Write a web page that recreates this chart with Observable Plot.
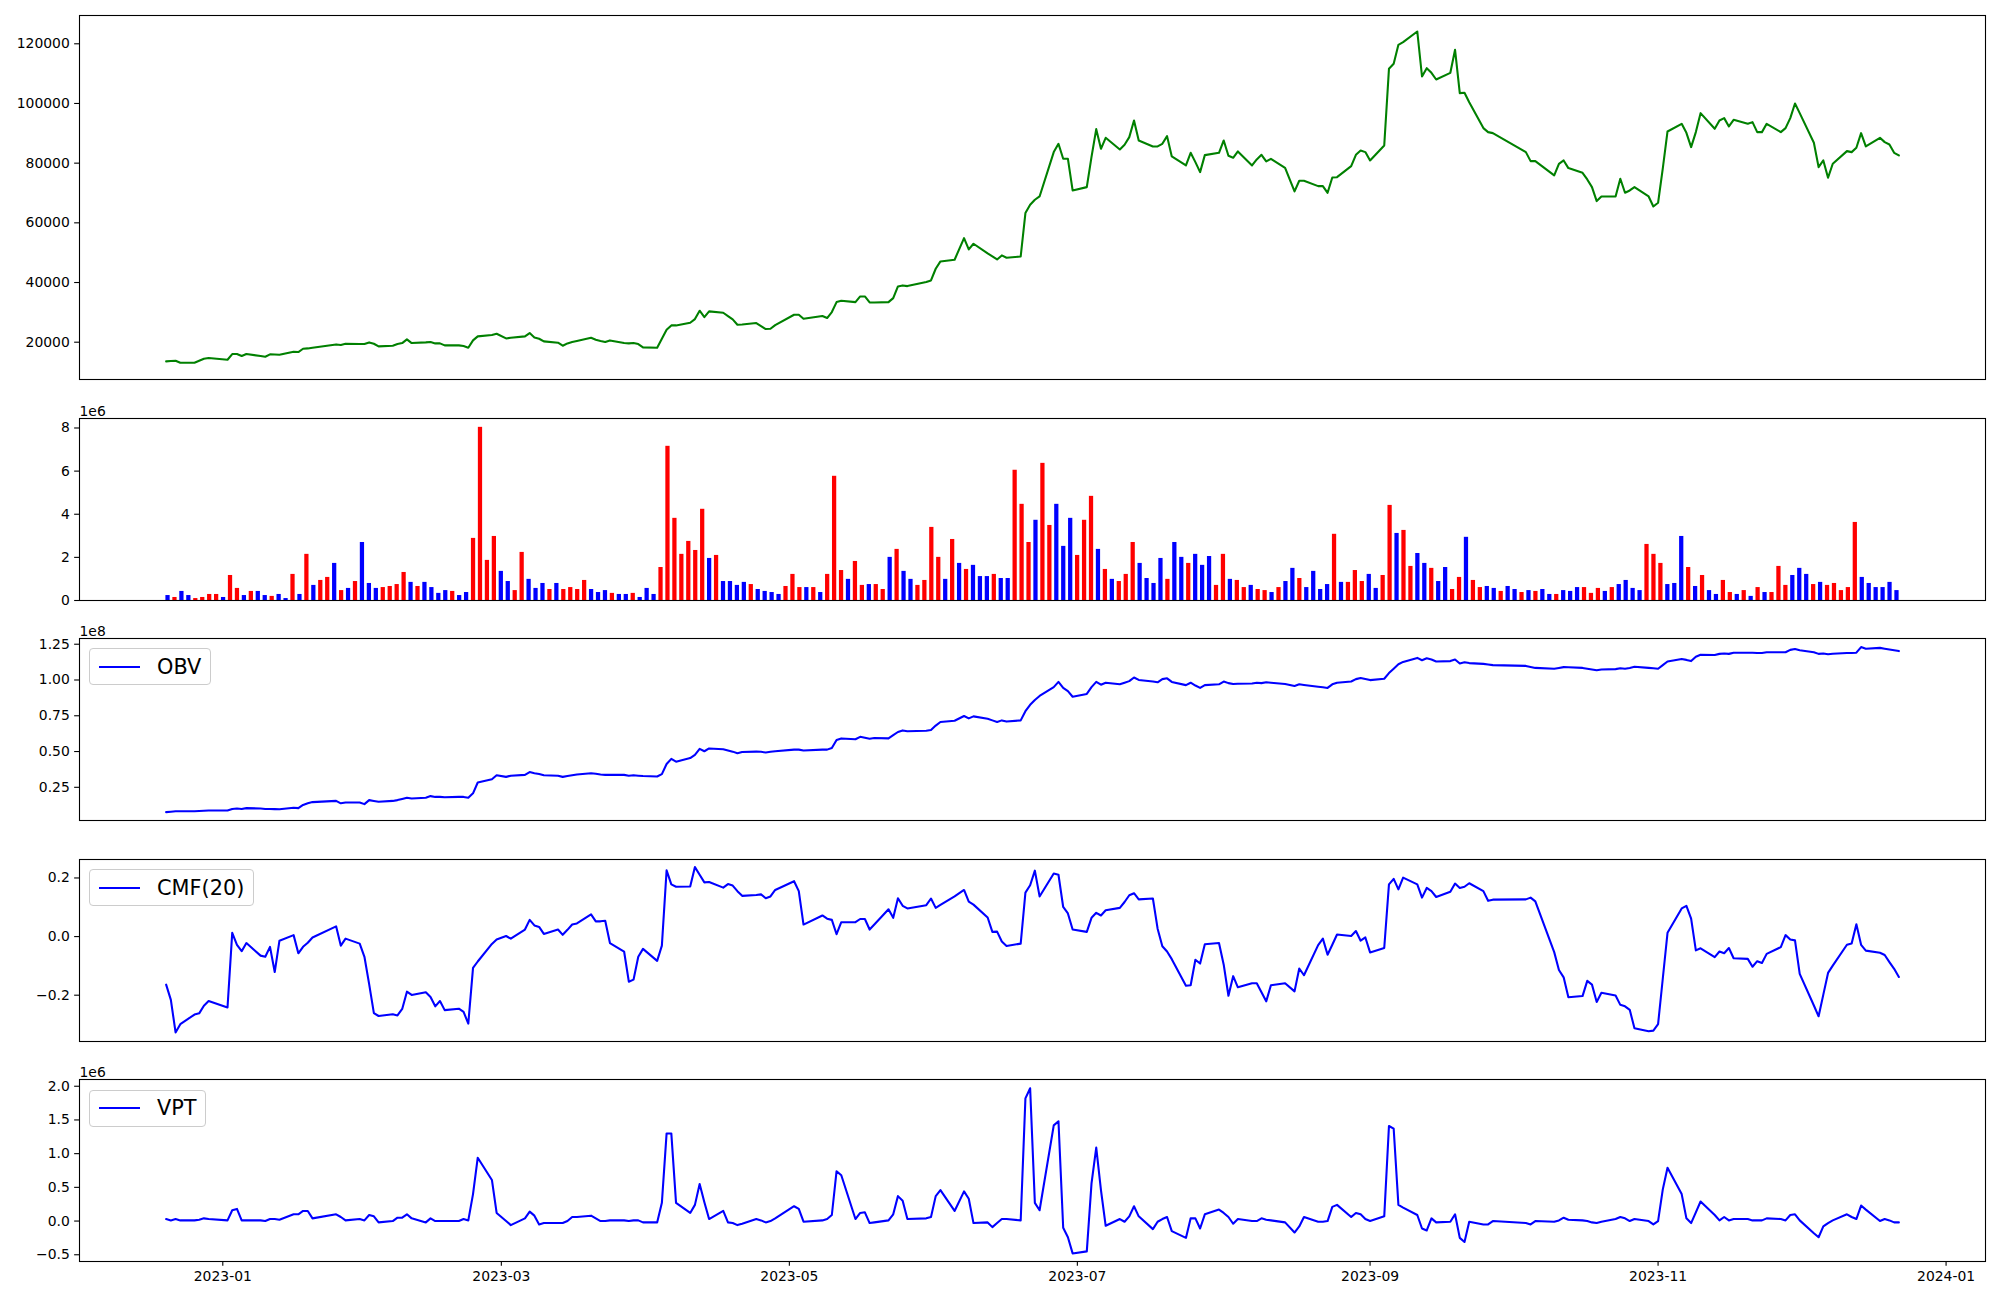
<!DOCTYPE html>
<html><head><meta charset="utf-8">
<script src="https://cdn.jsdelivr.net/npm/d3@7"></script>
<script src="https://cdn.jsdelivr.net/npm/@observablehq/plot@0.6"></script>
<style>
html,body{margin:0;padding:0;background:#fff;overflow:hidden}
#wrap{position:relative;width:2000px;height:1300px;font-family:"DejaVu Sans",sans-serif}
.legend{position:absolute;left:89.4px;height:37px;box-sizing:border-box;border:1px solid #cccccc;border-radius:4px;background:rgba(255,255,255,0.8);display:flex;align-items:center;padding:0 8.3px;font-size:20.83px;color:#000;font-family:"DejaVu Sans",sans-serif;white-space:nowrap}
.legend svg{margin-right:16.7px;display:block}
</style></head><body><div id="wrap"></div>
<script>
// ---------- DATA ----------
const firstDay = "2022-12-20", lastDay = "2023-12-22";
const holidays = ["2022-12-30","2023-01-23","2023-01-24","2023-03-01","2023-05-01","2023-05-05","2023-05-29","2023-06-06","2023-08-15","2023-09-28","2023-09-29","2023-10-02","2023-10-03","2023-10-09"];

const close = [13570,13680,13790,13120,13120,13790,14460,14690,14130,16030,
16030,15350,16030,15350,15130,15910,15860,15800,16810,16700,
17810,17920,18150,19260,19040,19490,19380,19380,19930,19490,
18590,18820,19380,19710,20940,19710,19930,20040,19600,19600,
18930,18930,18700,18150,20600,21940,22390,22830,21270,21500,
21940,23060,21610,21160,20270,19820,18820,19600,20040,20380,
21500,20830,20380,20040,20600,19710,19600,19710,19380,18260,
18150,21160,24180,25630,25630,26520,27750,30540,28420,30320,
29870,28760,27640,25850,25960,26410,25410,24400,24510,25740,
29200,29200,27860,28760,28090,30100,33440,33890,33440,35340,
35340,33330,33330,33440,34780,38690,39030,38800,40140,40700,
44610,47070,47630,54890,51090,52990,49750,48740,47740,49080,
48300,48740,63260,66050,67730,68840,83700,86490,81460,81460,
70850,71970,82130,91400,84810,88500,84590,86150,88720,94300,
87600,85600,85600,86490,89060,82240,79230,83470,80350,76990,
82690,83470,87600,82470,81800,83920,79230,81240,82800,80570,
81460,78450,70520,74090,74090,72300,72300,70070,75210,75300,
79000,82800,84250,83700,80900,85930,111610,113290,119650,120550,
124120,109040,111840,110270,108040,110270,117980,103460,103570,100390,
91740,90400,90060,83700,80680,80680,75880,79790,80900,78340,
76770,74540,71970,67280,68840,68840,74760,70070,70850,71970,
68840,65490,66720,78220,90620,93190,90170,85370,90400,96760,
91510,94300,95090,92300,94530,93190,93750,90400,90400,93190,
90400,91740,95090,100000,96760,86820,78670,80900,75100,79790,
84030,83700,85150,90060,85600,88500,87050,86260,83470,82580];

// volume, millions of shares (bar i)
const volume = [0.23,0.14,0.42,0.23,0.09,0.14,0.28,0.28,0.14,1.16,
0.56,0.23,0.42,0.42,0.23,0.19,0.28,0.09,1.21,0.28,
2.14,0.70,0.93,1.07,1.72,0.46,0.56,0.88,2.69,0.79,
0.56,0.60,0.65,0.74,1.30,0.84,0.65,0.84,0.60,0.33,
0.46,0.42,0.23,0.37,2.88,8.03,1.86,2.97,1.35,0.88,
0.46,2.23,0.98,0.56,0.79,0.51,0.79,0.51,0.60,0.51,
0.93,0.51,0.37,0.46,0.33,0.28,0.28,0.33,0.14,0.56,
0.28,1.53,7.15,3.81,2.14,2.74,2.32,4.23,1.95,2.09,
0.88,0.88,0.70,0.84,0.74,0.51,0.42,0.37,0.28,0.65,
1.21,0.60,0.60,0.60,0.37,1.21,5.76,1.39,0.98,1.81,
0.70,0.74,0.74,0.51,2.00,2.37,1.35,0.98,0.70,0.93,
3.39,2.00,0.98,2.83,1.72,1.44,1.63,1.11,1.11,1.21,
1.02,1.02,6.04,4.46,2.69,3.72,6.36,3.48,4.46,2.51,
3.81,2.09,3.72,4.83,2.37,1.44,0.98,0.88,1.21,2.69,
1.72,1.02,0.79,1.95,0.98,2.69,2.00,1.72,2.14,1.63,
2.04,0.70,2.14,0.98,0.93,0.60,0.70,0.51,0.46,0.37,
0.60,0.88,1.49,1.02,0.60,1.35,0.51,0.74,3.07,0.84,
0.84,1.39,0.88,1.21,0.56,1.16,4.41,3.11,3.25,1.58,
2.18,1.72,1.49,0.88,1.53,0.51,1.07,2.93,0.93,0.60,
0.65,0.56,0.42,0.65,0.51,0.37,0.46,0.42,0.51,0.28,
0.28,0.46,0.42,0.60,0.60,0.33,0.56,0.42,0.60,0.74,
0.93,0.56,0.46,2.60,2.14,1.72,0.74,0.79,2.97,1.53,
0.65,1.16,0.46,0.28,0.93,0.37,0.28,0.46,0.19,0.60,
0.37,0.37,1.58,0.70,1.16,1.49,1.21,0.74,0.84,0.70,
0.79,0.46,0.60,3.62,1.07,0.79,0.60,0.60,0.84,0.46];

// bar direction: R = up (red), B = down (blue)
const volumeDir = ("BRBBRRRRBR"+"RBRBBRBBRB"+"RBRRBRBRBB"+"BRRRRBRBBB"+"BRBBRRRRBB"+
"RRBBBRBRRR"+"RBBBRBBRBB"+"BRRRRRRRBR"+"BBBBRBBBBR"+"RRBRBRRRBR"+
"RBRRBRBBRR"+"RRBRBRBBBR"+"BBRRRBRRBB"+"BRRRBRBRRR"+"BBBBRBBRBB"+
"BRRBRRBRRB"+"RBBRBBBBRB"+"RRRBBRRBRR"+"BBRBBRRBRR"+"BBRBBRBRBB"+
"RBBBRRRBRB"+"BBBRRRBBBR"+"BRBBRRBRBR"+"BRRRBBBRBR"+"RRRRBBBBBB").split("");

// OBV, millions
const obv = [7.65,7.93,8.21,8.21,8.21,8.49,8.6,8.77,8.77,9.89,
10.17,9.89,10.45,10.17,9.89,9.89,9.75,9.61,10.73,10.45,
12.69,13.81,14.65,15.49,13.81,14.37,14.37,13.25,16.05,15.49,
14.93,15.49,16.05,16.89,17.73,17.17,17.73,18.85,18.29,18.29,
18.01,18.29,18.29,17.73,20.81,28.37,30.61,33.41,32.29,33.13,
33.69,35.65,34.81,34.25,33.41,33.13,32.29,32.85,33.41,33.97,
34.81,34.53,33.97,33.69,33.69,33.69,33.13,33.41,33.13,32.85,
32.57,34.25,41.25,44.89,42.93,45.45,47.69,51.89,50.21,52.17,
51.61,50.77,49.93,48.81,49.65,49.93,49.79,49.37,49.79,50.21,
51.33,51.33,50.77,51.33,51.33,52.45,58.05,59.17,58.61,60.29,
59.6,58.89,59.45,59.17,61.41,63.65,64.77,64.21,64.49,65.05,
68.13,70.65,71.49,74.85,73.17,74.57,72.89,71.77,70.65,71.77,
70.93,71.77,78.21,82.69,86.05,88.85,95.01,98.65,94.45,92.21,
88.29,90.25,95.01,98.65,96.69,98.09,96.97,98.09,99.21,101.73,
100.05,98.93,98.37,100.61,101.17,98.65,96.41,98.09,96.13,94.45,
96.41,96.97,98.93,97.81,97.25,97.4,97.53,98.09,97.81,98.37,
98.09,97.25,95.85,96.97,96.55,95.29,94.87,94.45,96.97,98.09,
98.93,100.61,101.45,100.75,99.93,100.89,104.81,107.89,110.97,112.65,
115.45,113.77,115.17,114.33,112.93,113.21,114.33,111.53,112.37,111.81,
111.25,110.83,110.41,109.85,109.15,108.45,107.89,108.45,109.01,108.87,
108.45,107.89,107.33,106.77,107.33,107.61,108.17,107.89,108.45,109.29,
108.45,108.17,107.89,110.41,112.93,114.61,114.05,113.21,116.29,117.69,
117.41,118.25,118.53,118.25,119.09,119.09,119.09,118.81,118.81,119.37,
119.37,119.37,121.05,121.61,120.77,119.37,118.25,118.53,117.97,118.39,
118.81,118.81,119.09,123.01,121.89,122.45,121.89,121.33,120.77,120.21];

const cmf = [-0.164,-0.216,-0.327,-0.299,-0.266,-0.262,-0.236,-0.220,-0.242,0.013,
-0.028,-0.050,-0.022,-0.065,-0.069,-0.035,-0.121,-0.014,0.005,-0.057,
-0.035,-0.021,-0.003,0.035,-0.031,-0.007,-0.024,-0.069,-0.162,-0.261,
-0.271,-0.265,-0.269,-0.247,-0.188,-0.199,-0.190,-0.206,-0.238,-0.220,
-0.251,-0.246,-0.257,-0.297,-0.107,-0.085,-0.025,-0.010,0.002,-0.007,
0.024,0.057,0.038,0.033,0.009,0.024,0.006,0.023,0.041,0.045,
0.076,0.052,0.052,0.054,-0.022,-0.051,-0.154,-0.147,-0.069,-0.042,
-0.083,-0.031,0.226,0.178,0.170,0.171,0.237,0.211,0.185,0.186,
0.167,0.179,0.174,0.155,0.139,0.142,0.144,0.131,0.137,0.159,
0.189,0.155,0.041,0.072,0.061,0.057,0.008,0.049,0.049,0.060,
0.060,0.024,0.041,0.093,0.064,0.131,0.105,0.096,0.107,0.130,
0.098,0.108,0.137,0.159,0.119,0.109,0.065,0.016,0.017,-0.017,
-0.032,-0.024,0.150,0.175,0.225,0.137,0.215,0.211,0.101,0.079,
0.024,0.016,0.064,0.081,0.072,0.090,0.098,0.118,0.141,0.148,
0.127,0.130,0.027,-0.033,-0.051,-0.077,-0.168,-0.166,-0.079,-0.092,
-0.026,-0.022,-0.096,-0.202,-0.135,-0.173,-0.159,-0.159,-0.190,-0.221,
-0.166,-0.159,-0.187,-0.109,-0.132,-0.029,-0.007,-0.062,-0.028,0.007,
0.002,0.019,-0.014,-0.003,-0.054,-0.039,0.178,0.197,0.161,0.201,
0.178,0.133,0.166,0.155,0.135,0.153,0.181,0.166,0.170,0.182,
0.155,0.122,0.126,0.127,0.133,0.120,-0.053,-0.114,-0.139,-0.207,
-0.203,-0.151,-0.164,-0.223,-0.192,-0.201,-0.233,-0.238,-0.250,-0.313,
-0.323,-0.321,-0.299,-0.143,0.013,0.096,0.105,0.061,-0.047,-0.040,
-0.070,-0.051,-0.057,-0.039,-0.074,-0.076,-0.103,-0.084,-0.090,-0.059,
-0.036,0.005,-0.010,-0.013,-0.127,-0.235,-0.272,-0.198,-0.124,-0.099,
-0.028,-0.024,0.042,-0.028,-0.048,-0.055,-0.063,-0.087,-0.110,-0.138];

// VPT, millions
const vpt = [0.03,0.01,0.03,0.01,0.01,0.02,0.04,0.03,0.01,0.16,
0.18,0.01,0.01,0.01,0.00,0.03,0.03,0.02,0.10,0.10,
0.15,0.15,0.04,0.10,0.06,0.01,0.03,0.01,0.09,0.07,
-0.02,0.00,0.05,0.05,0.10,0.04,-0.02,0.04,0.00,0.00,
0.00,0.00,0.03,0.01,0.40,0.94,0.61,0.12,0.00,-0.06,
0.04,0.14,0.08,-0.05,-0.03,-0.03,-0.03,0.00,0.06,0.06,
0.08,0.04,0.00,0.00,0.01,0.01,0.00,0.01,0.01,-0.02,
-0.02,0.27,1.30,1.30,0.27,0.12,0.24,0.55,0.28,0.03,
0.15,-0.02,-0.03,-0.06,-0.04,0.03,0.01,-0.02,0.00,0.04,
0.22,0.18,-0.01,0.01,0.03,0.09,0.74,0.68,0.03,0.12,
0.13,-0.03,-0.02,0.01,0.10,0.37,0.30,0.03,0.04,0.06,
0.37,0.46,0.15,0.44,0.33,-0.03,-0.02,-0.09,-0.03,0.03,
0.03,0.01,1.82,1.97,0.27,0.16,1.42,1.48,-0.10,-0.24,
-0.48,-0.45,0.56,1.09,0.46,-0.07,0.03,-0.01,0.07,0.22,
0.07,-0.12,-0.01,0.03,0.06,-0.15,-0.25,0.04,0.04,-0.11,
0.10,0.17,0.12,0.06,-0.04,0.03,0.00,0.00,0.04,0.02,
0.01,-0.02,-0.17,-0.08,0.06,-0.01,-0.01,0.00,0.21,0.24,
0.06,0.12,0.10,0.03,0.00,0.07,1.41,1.37,0.24,0.20,
0.09,-0.11,-0.14,0.04,-0.02,-0.01,0.10,-0.25,-0.31,-0.01,
-0.05,-0.05,0.00,-0.03,-0.05,0.00,-0.01,0.01,0.05,0.02,
0.01,0.00,-0.02,-0.03,-0.01,0.03,0.06,0.04,0.00,0.03,
0.00,-0.05,0.00,0.47,0.79,0.40,0.04,-0.03,0.13,0.29,
0.09,0.01,0.06,0.01,0.03,0.03,0.01,0.01,0.01,0.04,
0.03,0.01,0.09,0.10,0.01,-0.18,-0.24,-0.08,-0.03,0.01,
0.10,0.06,0.03,0.23,0.17,0.00,0.03,0.01,-0.02,-0.02];

const xTickLabels = ["2023-01","2023-03","2023-05","2023-07","2023-09","2023-11","2024-01"];
const priceTicks = [20000,40000,60000,80000,100000,120000];
const volumeTicks = [0,2,4,6,8];
const obvTicks = [25,50,75,100,125];
const cmfTicks = [-0.2,0,0.2];
const vptTicks = [-0.5,0,0.5,1,1.5,2];

// ---------- LAYOUT ----------
const DAY = 864e5;
const T0 = Date.UTC(2023,0,1);
const dayToDate = d => new Date(T0 + d*DAY);
const xDomain = [dayToDate(-30.35), dayToDate(373.35)];

const dates = [];
for (let t = Date.parse(firstDay); t <= Date.parse(lastDay); t += DAY) {
  const dt = new Date(t), wd = dt.getUTCDay(), s = dt.toISOString().slice(0,10);
  if (wd === 0 || wd === 6 || holidays.includes(s)) continue;
  dates.push(dt);
}
const n = Math.min(dates.length, close.length);
const rows = d3.range(n).map(i => ({date: dates[i], close: close[i], obv: obv[i], cmf: cmf[i], vpt: vpt[i]}));

// volume bars are evenly spaced across the span
const barStart = -11.6, barEnd = 354.6, barHalf = 0.45;
const barStep = (barEnd - barStart) / (volume.length - 1);
const bars = volume.map((v, i) => ({c: barStart + i*barStep, v, up: volumeDir[i] === "R"}));

const xTicks = xTickLabels.map(s => new Date(Date.parse(s + "-01")));
const FS = 13.9, TK = 4.86;
const wrap = document.getElementById("wrap");

function panel({top, h, yDomain, yTicks, yFmt, marks, xAxis, offset}) {
  const mt = 30, mb = xAxis ? 45 : 20;
  const svg = Plot.plot({
    width: 2000, height: h + mt + mb,
    marginLeft: 79, marginRight: 15, marginTop: mt, marginBottom: mb,
    style: {fontFamily: "DejaVu Sans", fontSize: FS + "px", color: "black", background: "transparent", overflow: "visible"},
    x: {type: "utc", domain: xDomain, axis: null},
    y: {domain: yDomain, axis: null},
    color: {type: "identity"},
    marks: [
      ...marks,
      Plot.axisY({ticks: yTicks, tickFormat: yFmt, tickSize: TK, tickPadding: TK, label: null, fontSize: FS, strokeWidth: 1.1}),
      xAxis ? Plot.axisX({ticks: xTicks, tickFormat: d3.utcFormat("%Y-%m"), tickSize: TK, tickPadding: TK, label: null, fontSize: FS, strokeWidth: 1.1}) : null,
      Plot.frame({stroke: "black", strokeWidth: 1.1}),
      offset ? Plot.text([offset], {frameAnchor: "top-left", dy: -3, lineAnchor: "bottom", textAnchor: "start", fontSize: FS}) : null
    ].filter(Boolean)
  });
  svg.style.position = "absolute";
  svg.style.left = "0px";
  svg.style.top = (top - mt) + "px";
  svg.style.maxWidth = "none";
  wrap.appendChild(svg);
}

function legend(top, text) {
  const div = document.createElement("div");
  div.className = "legend";
  div.style.top = top + "px";
  div.innerHTML = `<svg width="41.7" height="6"><line x1="0" x2="41.7" y1="3" y2="3" stroke="#0000ff" stroke-width="2.08"/></svg><span>${text}</span>`;
  wrap.appendChild(div);
}

const lineOpts = (y, stroke) => ({x: "date", y, stroke, strokeWidth: 2.08});

panel({top: 15, h: 364, yDomain: [7500, 129480], yTicks: priceTicks, yFmt: d3.format("d"),
  marks: [Plot.line(rows, lineOpts("close", "#008000"))]});

panel({top: 418, h: 182, yDomain: [0, 8.44], yTicks: volumeTicks, yFmt: d3.format("d"), offset: "1e6",
  marks: [Plot.rectY(bars, {x1: d => dayToDate(d.c - barHalf), x2: d => dayToDate(d.c + barHalf), y: "v",
    fill: d => d.up ? "#ff0000" : "#0000ff"})]});

panel({top: 638, h: 182, yDomain: [1.8, 129], yTicks: obvTicks, yFmt: v => d3.format(".2f")(v/100), offset: "1e8",
  marks: [Plot.line(rows, lineOpts("obv", "#0000ff"))]});

panel({top: 859, h: 182, yDomain: [-0.358, 0.263], yTicks: cmfTicks, yFmt: d3.format(".1f"),
  marks: [Plot.line(rows, lineOpts("cmf", "#0000ff"))]});

panel({top: 1079, h: 182, yDomain: [-0.60, 2.10], yTicks: vptTicks, yFmt: d3.format(".1f"), offset: "1e6", xAxis: true,
  marks: [Plot.line(rows, lineOpts("vpt", "#0000ff"))]});

legend(648.4, "OBV");
legend(869.4, "CMF(20)");
legend(1089.6, "VPT");
</script></body></html>
